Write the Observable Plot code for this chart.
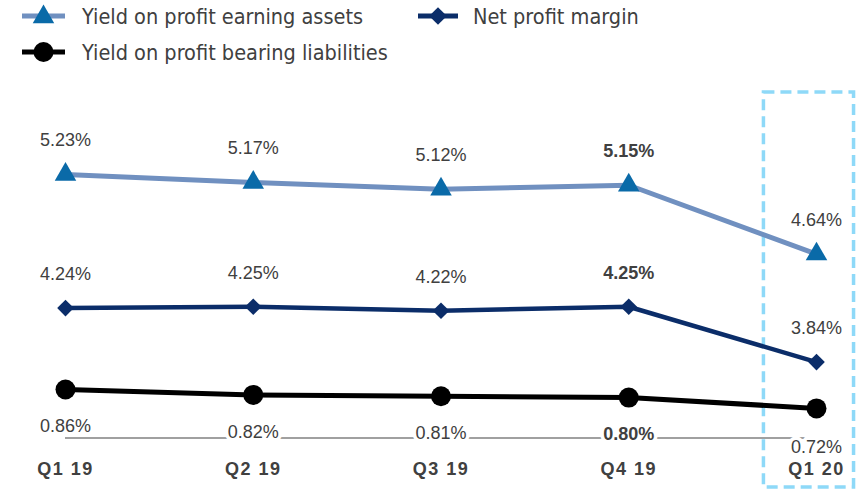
<!DOCTYPE html>
<html><head><meta charset="utf-8">
<script src="https://cdn.jsdelivr.net/npm/d3@7"></script>
<script src="https://cdn.jsdelivr.net/npm/@observablehq/plot@0.6"></script>
<style>
body{margin:0;background:#fff;width:864px;height:489px;overflow:hidden}
#legend{position:relative;height:80px;font-family:"DejaVu Sans Condensed","DejaVu Sans",sans-serif;font-stretch:condensed;font-size:21.5px;color:#404040}
.item{position:absolute;display:flex;align-items:center;white-space:nowrap;height:24px}
.item svg{display:block}
</style></head><body>
<div id="legend"></div>
<div id="chart"></div>
<script>
// ---- data ----
const quarters = ["Q1 19", "Q2 19", "Q3 19", "Q4 19", "Q1 20"];
const yieldAssets = [5.23, 5.17, 5.12, 5.15, 4.64];
const netMargin = [4.24, 4.25, 4.22, 4.25, 3.84];
const yieldLiabilities = [0.86, 0.82, 0.81, 0.80, 0.72];
const seriesNames = ["Yield on profit earning assets", "Net profit margin", "Yield on profit bearing liabilities"];
const boldQuarter = "Q4 19";
const highlightQuarter = "Q1 20";

// ---- styling / layout (not data) ----
const colors = {assetsLine: "#7090c0", assetsMark: "#0a6aa8", margin: "#0b2d69", liab: "#000000", text: "#404040", box: "#8ed9f8", base: "#808080"};
const LIAB_SHIFT = 2.777;   // broken-axis shift applied to the liabilities series
const BASELINE = 0.5;       // baseline drawn in liabilities units

const hi = quarters.indexOf(highlightQuarter);
const rows = [];
quarters.forEach((q, i) => {
  rows.push({q, i, s: seriesNames[0], v: yieldAssets[i], py: yieldAssets[i], pos: "above"});
  rows.push({q, i, s: seriesNames[1], v: netMargin[i], py: netMargin[i], pos: "above"});
  rows.push({q, i, s: seriesNames[2], v: yieldLiabilities[i], py: yieldLiabilities[i] + LIAB_SHIFT, pos: "below"});
});
const bySeries = s => rows.filter(d => d.s === s);
const fmt = d => d.v.toFixed(2) + "%";

const labelOpts = (filter, dy, bold) => Plot.text(rows.filter(filter), {
  x: "i", y: "py", text: fmt, dy, fill: colors.text, fontSize: 18,
  fontWeight: bold ? "bold" : "normal", stroke: "white", strokeWidth: 7, paintOrder: "stroke"
});

const chart = Plot.plot({
  width: 864, height: 409,
  marginTop: 12, marginBottom: 2, marginLeft: 65, marginRight: 48,
  x: {domain: [0, quarters.length - 1], axis: null},
  y: {domain: [2.911, 5.837], axis: null},
  style: {fontFamily: "'Liberation Sans', Arial, sans-serif", background: "white"},
  marks: [
    Plot.rect([{x1: hi - 0.28, x2: hi + 0.2}], {x1: "x1", x2: "x2", fill: "none", stroke: colors.box, strokeWidth: 3.5, strokeDasharray: "11,6"}),
    Plot.line(bySeries(seriesNames[0]), {x: "i", y: "py", stroke: colors.assetsLine, strokeWidth: 5}),
    Plot.line(bySeries(seriesNames[1]), {x: "i", y: "py", stroke: colors.margin, strokeWidth: 4.5}),
    Plot.line(bySeries(seriesNames[2]), {x: "i", y: "py", stroke: colors.liab, strokeWidth: 5}),
    Plot.dot(bySeries(seriesNames[0]), {x: "i", y: "py", symbol: "triangle", r: 8, fill: colors.assetsMark}),
    Plot.dot(bySeries(seriesNames[1]), {x: "i", y: "py", symbol: "diamond2", r: 7.5, fill: colors.margin}),
    Plot.dot(bySeries(seriesNames[2]), {x: "i", y: "py", symbol: "circle", r: 10, fill: colors.liab}),
    Plot.ruleY([{y: BASELINE + LIAB_SHIFT, x1: 0, x2: quarters.length - 1}], {y: "y", x1: "x1", x2: "x2", stroke: colors.base, strokeWidth: 1.5}),
    labelOpts(d => d.pos === "above" && d.q !== boldQuarter, -34, false),
    labelOpts(d => d.pos === "above" && d.q === boldQuarter, -34, true),
    labelOpts(d => d.pos === "below" && d.q !== boldQuarter && d.q !== highlightQuarter, 37, false),
    labelOpts(d => d.pos === "below" && d.q === boldQuarter, 37, true),
    labelOpts(d => d.pos === "below" && d.q === highlightQuarter, 39, false),
    Plot.text(quarters, {x: (d, i) => i, text: d => d, frameAnchor: "bottom", dy: -13, fontSize: 18, fontWeight: "bold", fill: colors.text})
  ]
});
chart.querySelectorAll("text").forEach(t => { if (quarters.includes(t.textContent)) t.setAttribute("letter-spacing", "1.5"); });
document.getElementById("chart").appendChild(chart);

// ---- legend (HTML above the SVG) ----
const legendItems = [
  {name: seriesNames[0], left: 22, top: 4, w: 43, gap: 17, line: colors.assetsLine, mark: colors.assetsMark, sym: d3.symbolTriangle, size: 200},
  {name: seriesNames[1], left: 418, top: 4, w: 40, gap: 15, line: colors.margin, mark: colors.margin, sym: d3.symbolDiamond2, size: 200},
  {name: seriesNames[2], left: 22, top: 40, w: 43, gap: 17, line: colors.liab, mark: colors.liab, sym: d3.symbolCircle, size: 314}
];
const legend = document.getElementById("legend");
for (const it of legendItems) {
  const div = document.createElement("div");
  div.className = "item";
  div.style.left = it.left + "px";
  div.style.top = it.top + "px";
  const path = d3.symbol(it.sym, it.size)();
  div.innerHTML = `<svg width="${it.w}" height="24"><line x1="0" x2="${it.w}" y1="12" y2="12" stroke="${it.line}" stroke-width="5"/><path d="${path}" transform="translate(${it.w / 2},${it.sym === d3.symbolTriangle ? 13 : 12})" fill="${it.mark}"/></svg><span style="margin-left:${it.gap}px">${it.name}</span>`;
  legend.appendChild(div);
}
</script>
</body></html>
